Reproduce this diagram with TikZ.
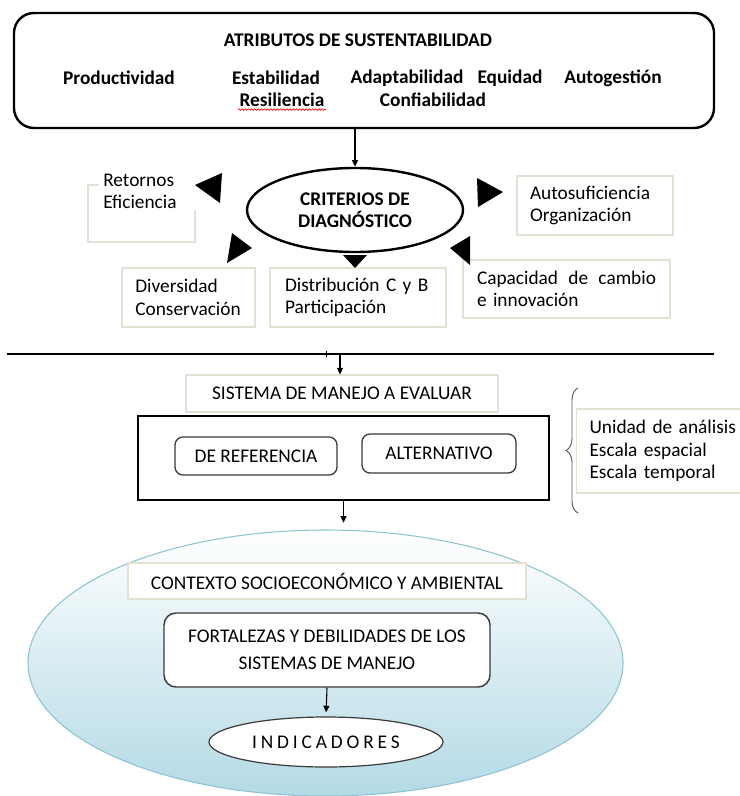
\documentclass[tikz,border=0pt]{standalone}
\usepackage{fontspec}
\setmainfont{Carlito}
\usetikzlibrary{positioning,calc,shapes.geometric,arrows.meta,decorations.pathreplacing,decorations.pathmorphing}

\definecolor{paleline}{HTML}{E4E0D4}
\definecolor{skyedge}{HTML}{8EC3D3}
\definecolor{skyfill}{HTML}{B3DAE5}
\definecolor{boxline}{HTML}{3A3A3A}

\tikzset{
  palebox/.style={draw=paleline, line width=0.8pt, fill=white, inner ysep=0pt, align=left, font=\fontsize{14.5}{17}\selectfont},
  roundbox/.style={draw=boxline, line width=1pt, fill=white, rounded corners=6pt, align=center},
  conn/.style={line width=0.8pt, -{Triangle[length=5pt,width=4.5pt]}},
}

\begin{document}
\begin{tikzpicture}[x=0.75pt, y=-0.75pt, font=\fontsize{14.5}{17}\selectfont]
\useasboundingbox (0,0) rectangle (739,796);

% atributos
\node[draw, line width=1.8pt, rounded corners=15pt, minimum width=525pt, minimum height=86.25pt] (atrib) at (364,70.5) {};
\node[font=\bfseries\fontsize{14.5}{17}\selectfont] (titl) at (358,40) {ATRIBUTOS DE SUSTENTABILIDAD};
\node[font=\bfseries\fontsize{14.5}{17}\selectfont] (prod) at (119,78) {Productividad};
\node[font=\bfseries\fontsize{14.5}{17}\selectfont] (esta) at (276,78) {Estabilidad};
\node[font=\bfseries\fontsize{14.5}{17}\selectfont] (adap) at (407,78) {Adaptabilidad};
\node[font=\bfseries\fontsize{14.5}{17}\selectfont] (equi) at (510,78) {Equidad};
\node[font=\bfseries\fontsize{14.5}{17}\selectfont] (auto) at (613,78) {Autogestión};
\node[font=\bfseries\fontsize{14.5}{17}\selectfont] (resi) at (282,100) {Resiliencia};
\node[font=\bfseries\fontsize{14.5}{17}\selectfont] (conf) at (433,100) {Confiabilidad};
\draw[red, line width=0.5pt, decorate, decoration={snake, amplitude=0.6pt, segment length=2.4pt}] ($(resi.south west)+(3,-2)$) -- ($(resi.south east)+(-3,-2)$);

% criterios
\node[draw, line width=1.8pt, shape=ellipse, minimum width=162pt, minimum height=63pt, inner sep=0pt, align=center, font=\bfseries\fontsize{14.5}{16.5}\selectfont] (crit) at (355,210) {CRITERIOS DE\\DIAGNÓSTICO};

\node[palebox, minimum width=80.25pt, minimum height=42.75pt] (reto) at (141.5,213.5) {};
\node[fill=white, anchor=north west, inner xsep=3pt, inner ysep=1pt, text width=69pt, align=left, font=\fontsize{14.5}{17}\selectfont] (retotxt) at (99,172) {Retornos\\Eficiencia};
\node[palebox, inner xsep=9.75pt, text width=97.5pt, minimum height=44.25pt] (sufi) at (595,205.5) {Autosuficiencia\\Organización};
\node[palebox, inner xsep=10pt, text width=79.75pt, minimum height=44.25pt] (dive) at (188.5,297.5) {Diversidad\\Conservación};
\node[palebox, inner xsep=11.25pt, text width=109.5pt, minimum height=44.25pt] (dist) at (358,297.5) {Distribución C y B\\Participación};
\node[palebox, inner xsep=10.5pt, text width=134.25pt, minimum height=43.5pt] (capa) at (566.5,289) {Capacidad\hfill de\hfill cambio\\e innovación};

\fill (195,185) -- (222,173) -- (220,203) -- cycle;
\fill (252,248) -- (232,233) -- (227,263) -- cycle;
\fill (503,192) -- (477,178) -- (478,207) -- cycle;
\fill (450,248) -- (470,236) -- (470,265) -- cycle;
\fill (343,255) -- (367,255) -- (355,268) -- cycle;

\draw[conn] (atrib.south -| crit.north) -- (crit.north);

% sistema de manejo
\draw[line width=0.8pt] (7,354) -- (714,354);
\draw[line width=0.6pt] (326,351) -- (326,357);
\coordinate (split) at (340,354);
\node[palebox, minimum width=234pt, minimum height=27.75pt, align=center] (sist) at (342,393.5) {SISTEMA DE MANEJO A EVALUAR};
\node[draw, line width=0.9pt, minimum width=308.25pt, minimum height=63pt] (mane) at (343.5,458) {};
\node[roundbox, minimum width=121.5pt, minimum height=28.5pt] (refe) at (256,456) {DE REFERENCIA};
\node[roundbox, minimum width=115.5pt, minimum height=29.25pt] (alte) at (439,453.5) {ALTERNATIVO};
\draw[gray!70!black, line width=0.7pt, decorate, decoration={brace, amplitude=9pt}] (578,513) -- (578,388);
\node[palebox, anchor=west, inner xsep=9.75pt, text width=115pt, minimum height=63pt] (unid) at (576,451) {Unidad de análisis\\Escala espacial\\Escala temporal};

% contexto
\node[shape=ellipse, draw=skyedge, line width=0.8pt, top color=white, bottom color=skyfill, minimum width=446.25pt, minimum height=199.5pt] (cont) at (325.5,663) {};
\node[palebox, minimum width=298.5pt, minimum height=27pt, align=center] (ctx) at (327,581) {CONTEXTO SOCIOECONÓMICO Y AMBIENTAL};
\node[roundbox, rounded corners=9pt, line width=1.1pt, minimum width=244.5pt, minimum height=55.5pt, font=\fontsize{14.5}{20}\selectfont] (fort) at (327,650) {FORTALEZAS Y DEBILIDADES DE LOS\\SISTEMAS DE MANEJO};
\node[draw=boxline, fill=white, line width=0.9pt, shape=ellipse, minimum width=175.5pt, minimum height=37.5pt] (indi) at (326,742) {{\spaceskip=2.9pt I N D I C A D O R E S}};

\draw[conn] (split) -- (split |- sist.north);
\draw[conn, shorten >=5pt] (mane.south) -- (mane.south |- cont.north);
\draw[conn, shorten >=3pt] (fort.south) -- (indi.north);
\end{tikzpicture}
\end{document}
